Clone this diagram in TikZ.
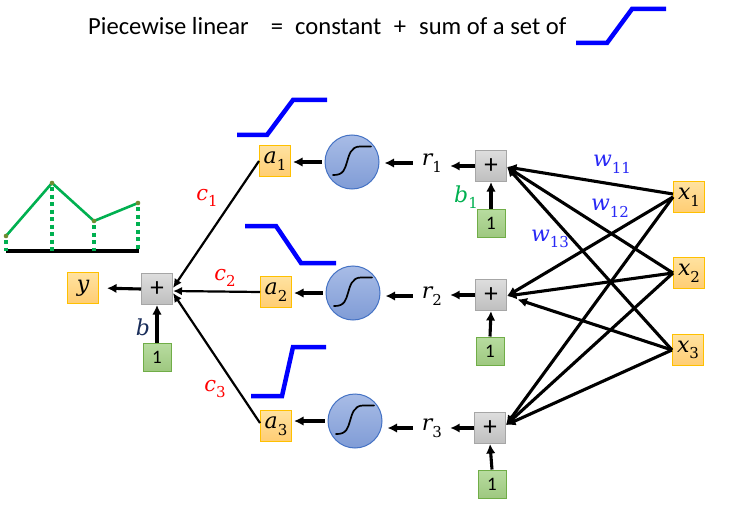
\documentclass[tikz,border=0pt]{standalone}
\usepackage{fontspec}
\newfontfamily\calib{Carlito}
\newfontfamily\dvs{DejaVu Serif}
\usetikzlibrary{arrows.meta}
\newcommand\mv[2]{{\dvs\itshape #1}\raisebox{-0.3em}{\dvs\fontsize{15}{15}\selectfont #2}}
\newcommand\iv[1]{{\dvs\itshape #1}}
\definecolor{oedge}{RGB}{255,192,0}
\definecolor{otop}{RGB}{255,226,160}
\definecolor{obot}{RGB}{255,205,115}
\definecolor{gedge}{RGB}{166,166,166}
\definecolor{gtop}{RGB}{222,222,222}
\definecolor{gbot}{RGB}{190,190,190}
\definecolor{nedge}{RGB}{112,173,71}
\definecolor{ntop}{RGB}{184,220,160}
\definecolor{nbot}{RGB}{158,200,128}
\definecolor{cedge}{RGB}{68,114,196}
\definecolor{ctop}{RGB}{168,188,230}
\definecolor{cbot}{RGB}{128,156,214}
\definecolor{stepblue}{RGB}{0,0,255}
\definecolor{wblue}{RGB}{40,40,245}
\definecolor{cred}{RGB}{255,0,0}
\definecolor{bgreen}{RGB}{0,176,80}
\definecolor{bnavy}{RGB}{25,45,90}
\definecolor{curvegreen}{RGB}{0,176,80}
\definecolor{dotolive}{RGB}{112,140,50}
\begin{document}
\begin{tikzpicture}[x=1pt,y=-1pt,
  obox/.style={draw=oedge,line width=1pt,top color=otop,bottom color=obot,minimum size=31pt,inner sep=0pt,font=\fontsize{22}{24}\selectfont},
  gbox/.style={draw=gedge,line width=1pt,top color=gtop,bottom color=gbot,minimum size=31pt,inner sep=0pt,font=\calib\fontsize{27}{28}\selectfont},
  onebox/.style={draw=nedge,line width=1pt,top color=ntop,bottom color=nbot,minimum size=28pt,inner sep=0pt,font=\calib\fontsize{19}{20}\selectfont},
  sigc/.style={circle,draw=cedge,line width=1pt,top color=ctop,bottom color=cbot,minimum size=54pt,inner sep=0pt},
  lbl/.style={inner sep=0pt,font=\fontsize{22}{24}\selectfont},
  wlbl/.style={inner sep=0pt,text=wblue,font=\fontsize{22}{24}\selectfont},
  clbl/.style={inner sep=0pt,text=cred,font=\fontsize{21}{24}\selectfont},
  arr/.style={line width=3.1pt,-{Latex[length=9.5pt,width=9.5pt]}},
  carr/.style={line width=2.2pt,-{Latex[length=9pt,width=8.5pt]}},
  stepline/.style={line width=4.5pt,stepblue},
  sigcurve/.style={line width=1.7pt,black,line cap=round},
  ttl/.style={inner sep=0pt,anchor=base west,font=\calib\fontsize{24.6}{28}\selectfont}
]
\useasboundingbox (0,0) rectangle (731,508);

% title
\node[ttl] (t1) at (88,35) {Piecewise linear};
\node[ttl,anchor=base] (t2) at (277,35) {=};
\node[ttl] (t3) at (295,35) {constant};
\node[ttl,anchor=base] (t4) at (400,35) {+};
\node[ttl] (t5) at (419,35) {sum of a set of};
\draw[stepline] (576,43) -- (607,43) -- (632,9) -- (666,9);

% piecewise linear sketch
\draw[line width=4pt,black] (6,251) -- (139,251);
\foreach \px/\py in {6/236,52/183,94/221,138/203}{
  \draw[curvegreen,line width=3.5pt,dash pattern=on 4pt off 3.5pt] (\px,\py+4) -- (\px,251);
}
\draw[curvegreen,line width=2.6pt,line join=round] (6,236) -- (52,183) -- (94,221) -- (138,203);
\foreach \px/\py in {6/236,52/183,94/221,138/203}{
  \fill[dotolive] (\px,\py) circle (2.3pt);
}

% output part
\node[obox] (y) at (83,288) {\iv{y}};
\node[gbox] (pm) at (157,289) {+};
\node[onebox] (om) at (157,357) {1};
\node[lbl,text=bnavy] (bl) at (143,327) {\iv{b}};

% a nodes
\node[obox] (a1) at (275,161) {\mv{a}{1}};
\node[obox] (a2) at (276,292) {\mv{a}{2}};
\node[obox] (a3) at (276,426) {\mv{a}{3}};

% sigmoid circles
\node[sigc] (s1) at (352,162) {};
\node[sigc] (s2) at (353,293) {};
\node[sigc] (s3) at (355,421) {};
\foreach \s in {s1,s2,s3}{
  \draw[sigcurve,shift={(\s.center)}] (-19,13) .. controls (-8,13.5) and (-7,6) .. (-5,0) .. controls (-3,-7) and (-1,-15.5) .. (8,-15.5) -- (19,-15.5);
}

% r labels
\node[lbl] (r1) at (432,163) {\mv{r}{1}};
\node[lbl] (r2) at (432,296) {\mv{r}{2}};
\node[lbl] (r3) at (432,428) {\mv{r}{3}};

% sums
\node[gbox] (p1) at (491,166) {+};
\node[gbox] (p2) at (491,295) {+};
\node[gbox] (p3) at (490,428) {+};
\node[onebox] (o1) at (491,223) {1};
\node[onebox] (o2) at (490,351) {1};
\node[onebox] (o3) at (492,484) {1};
\node[lbl,text=bgreen] (b1) at (466,197) {\mv{b}{1}};

% inputs
\node[obox] (x1) at (689,197) {\mv{x}{1}};
\node[obox] (x2) at (689,273) {\mv{x}{2}};
\node[obox] (x3) at (688,350) {\mv{x}{3}};

% weight labels
\node[wlbl] (w11) at (612,164) {\mv{w}{11}};
\node[wlbl] (w12) at (610,208) {\mv{w}{12}};
\node[wlbl] (w13) at (550,239) {\mv{w}{13}};

% c labels
\node[clbl] (c1) at (207,198) {\mv{c}{1}};
\node[clbl] (c2) at (225,278) {\mv{c}{2}};
\node[clbl] (c3) at (215,389) {\mv{c}{3}};

% blue step icons
\draw[stepline] (237,135) -- (267,135) -- (293,100) -- (327,100);
\draw[stepline] (245,226) -- (276,226) -- (301,263) -- (336,263);
\draw[stepline] (251,396) -- (282,396) -- (293,347) -- (326,347);

% connectors: output
\draw[arr,shorten >=8pt] (pm.west) -- (y.east);
\draw[arr] (om.north) -- (pm.south);
\draw[carr] (a1.west) -- ([yshift=1pt]pm.east);
\draw[carr] (a2.west) -- ([yshift=-2pt]pm.east);
\draw[carr] ([yshift=3pt]a3.west) -- ([yshift=-4pt]pm.east);

% sigmoid chain
\foreach \i in {1,2,3}{
  \draw[arr,shorten <=3pt,shorten >=2pt] (s\i.west) -- (s\i.west -| a\i.east);
  \draw[arr,shorten <=9pt,shorten >=5pt] (r\i.west) -- (r\i.west -| s\i.east);
  \draw[arr,shorten >=8pt] (p\i.west) -- (p\i.west -| r\i.east);
  \draw[arr] (o\i.north) -- (p\i.south);
}

% input connectors
\draw[arr] ([yshift=3pt]x1.west) -- ([yshift=-1pt]p1.east);
\draw[arr] (x2.west) -- ([yshift=-1pt]p1.east);
\draw[arr] (x3.west) -- ([yshift=-1pt]p1.east);
\draw[arr] (x1.west) -- ([yshift=-1pt]p2.east);
\draw[arr] (x2.west) -- ([yshift=-1pt]p2.east);
\draw[arr,shorten >=11pt] (x3.west) -- ([yshift=-1pt]p2.east);
\draw[arr] (x1.west) -- ([yshift=3pt]p3.east);
\draw[arr] (x2.west) -- ([yshift=3pt]p3.east);
\draw[arr] (x3.west) -- ([yshift=3pt]p3.east);
\end{tikzpicture}
\end{document}
